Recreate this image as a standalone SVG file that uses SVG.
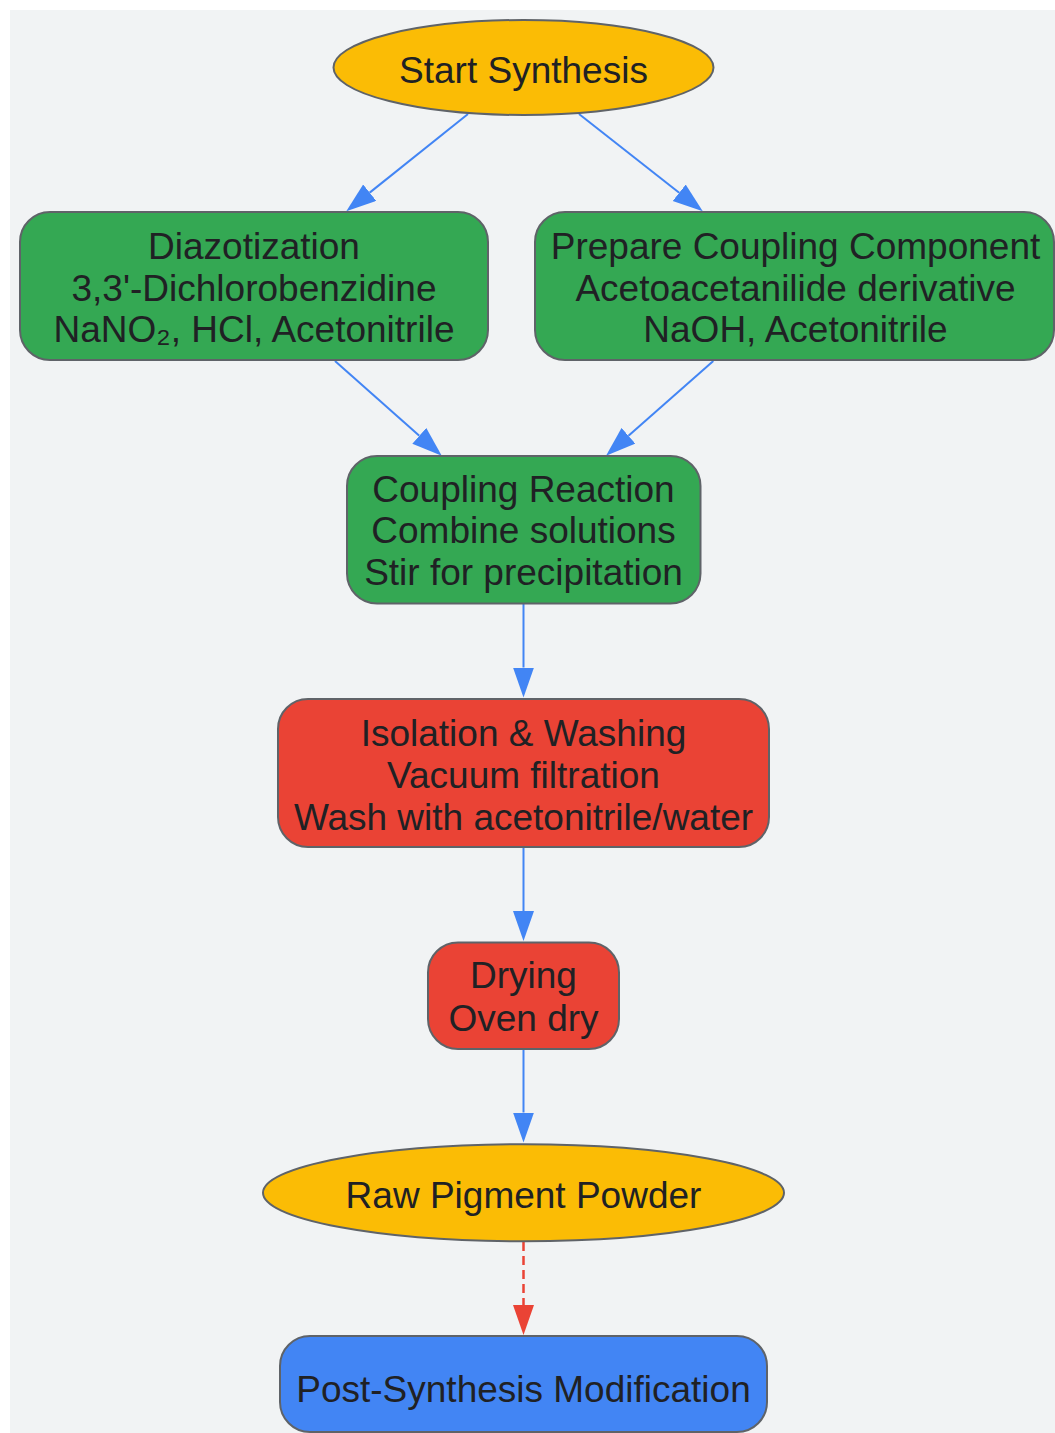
<svg xmlns="http://www.w3.org/2000/svg" width="1055" height="1433" viewBox="0 0 1055 1433">
  <defs>
    <style>
      .node { stroke: #5f6368; stroke-width: 2; }
      .green { fill: #34a853; }
      .red { fill: #ea4335; }
      .yellow { fill: #fbbc05; }
      .blue { fill: #4285f4; }
      text { font-family: "Liberation Sans", Arial, "DejaVu Sans", sans-serif; font-size: 37px; fill: #202124; text-anchor: middle; }
      .edge { fill: none; stroke: #4285f4; stroke-width: 2; }
      .edge-red { fill: none; stroke: #ea4335; stroke-width: 2.5; stroke-dasharray: 9 5; }
    </style>
    <marker id="arrowBlue" markerUnits="userSpaceOnUse" markerWidth="31" markerHeight="22" refX="0" refY="10.5" orient="auto">
      <path d="M0,0 L30,10.5 L0,21 z" fill="#4285f4"/>
    </marker>
    <marker id="arrowRed" markerUnits="userSpaceOnUse" markerWidth="31" markerHeight="22" refX="0" refY="10.5" orient="auto">
      <path d="M0,0 L30,10.5 L0,21 z" fill="#ea4335"/>
    </marker>
  </defs>

  <rect x="10" y="10" width="1050" height="1430" fill="#f1f3f4"/>

  <g id="connectors">
    <line class="edge" x1="468" y1="114" x2="369.7" y2="192.6" marker-end="url(#arrowBlue)"/>
    <line class="edge" x1="579" y1="114" x2="679.2" y2="192.8" marker-end="url(#arrowBlue)"/>
    <line class="edge" x1="335" y1="361" x2="419.3" y2="435.8" marker-end="url(#arrowBlue)"/>
    <line class="edge" x1="713.3" y1="361" x2="628.5" y2="435.8" marker-end="url(#arrowBlue)"/>
    <line class="edge" x1="523.5" y1="604" x2="523.5" y2="667.5" marker-end="url(#arrowBlue)"/>
    <line class="edge" x1="523.5" y1="848" x2="523.5" y2="911" marker-end="url(#arrowBlue)"/>
    <line class="edge" x1="523.5" y1="1049.5" x2="523.5" y2="1112.5" marker-end="url(#arrowBlue)"/>
    <line class="edge-red" x1="523.5" y1="1242" x2="523.5" y2="1305" marker-end="url(#arrowRed)"/>
  </g>

  <g id="start">
    <ellipse class="node yellow" cx="523.5" cy="67.5" rx="190" ry="47.5"/>
    <text x="523.5" y="83.3">Start Synthesis</text>
  </g>

  <g id="diazotization">
    <rect class="node green" x="20" y="212" width="468" height="148" rx="30" ry="30"/>
    <text x="254" y="259.3">Diazotization</text>
    <text x="254" y="300.7">3,3'-Dichlorobenzidine</text>
    <text x="254" y="341.7">NaNO₂, HCl, Acetonitrile</text>
  </g>

  <g id="prepare">
    <rect class="node green" x="535" y="212" width="519" height="148" rx="30" ry="30"/>
    <text x="795.5" y="259.3">Prepare Coupling Component</text>
    <text x="795.5" y="300.7">Acetoacetanilide derivative</text>
    <text x="795.5" y="341.7">NaOH, Acetonitrile</text>
  </g>

  <g id="coupling">
    <rect class="node green" x="347" y="456" width="353.5" height="147.5" rx="30" ry="30"/>
    <text x="523.5" y="501.7">Coupling Reaction</text>
    <text x="523.5" y="543.3">Combine solutions</text>
    <text x="523.5" y="585">Stir for precipitation</text>
  </g>

  <g id="isolation">
    <rect class="node red" x="278" y="699" width="491" height="148" rx="30" ry="30"/>
    <text x="523.5" y="745.7">Isolation &amp; Washing</text>
    <text x="523.5" y="787.7">Vacuum filtration</text>
    <text x="523.5" y="830">Wash with acetonitrile/water</text>
  </g>

  <g id="drying">
    <rect class="node red" x="428" y="942.5" width="191" height="106.5" rx="30" ry="30"/>
    <text x="523.5" y="988.3">Drying</text>
    <text x="523.5" y="1030.7">Oven dry</text>
  </g>

  <g id="raw">
    <ellipse class="node yellow" cx="523.5" cy="1192.8" rx="260.5" ry="48.5"/>
    <text x="523.5" y="1208.4">Raw Pigment Powder</text>
  </g>

  <g id="post">
    <rect class="node blue" x="280" y="1336" width="487" height="96" rx="30" ry="30"/>
    <text x="523.5" y="1402">Post-Synthesis Modification</text>
  </g>
</svg>
